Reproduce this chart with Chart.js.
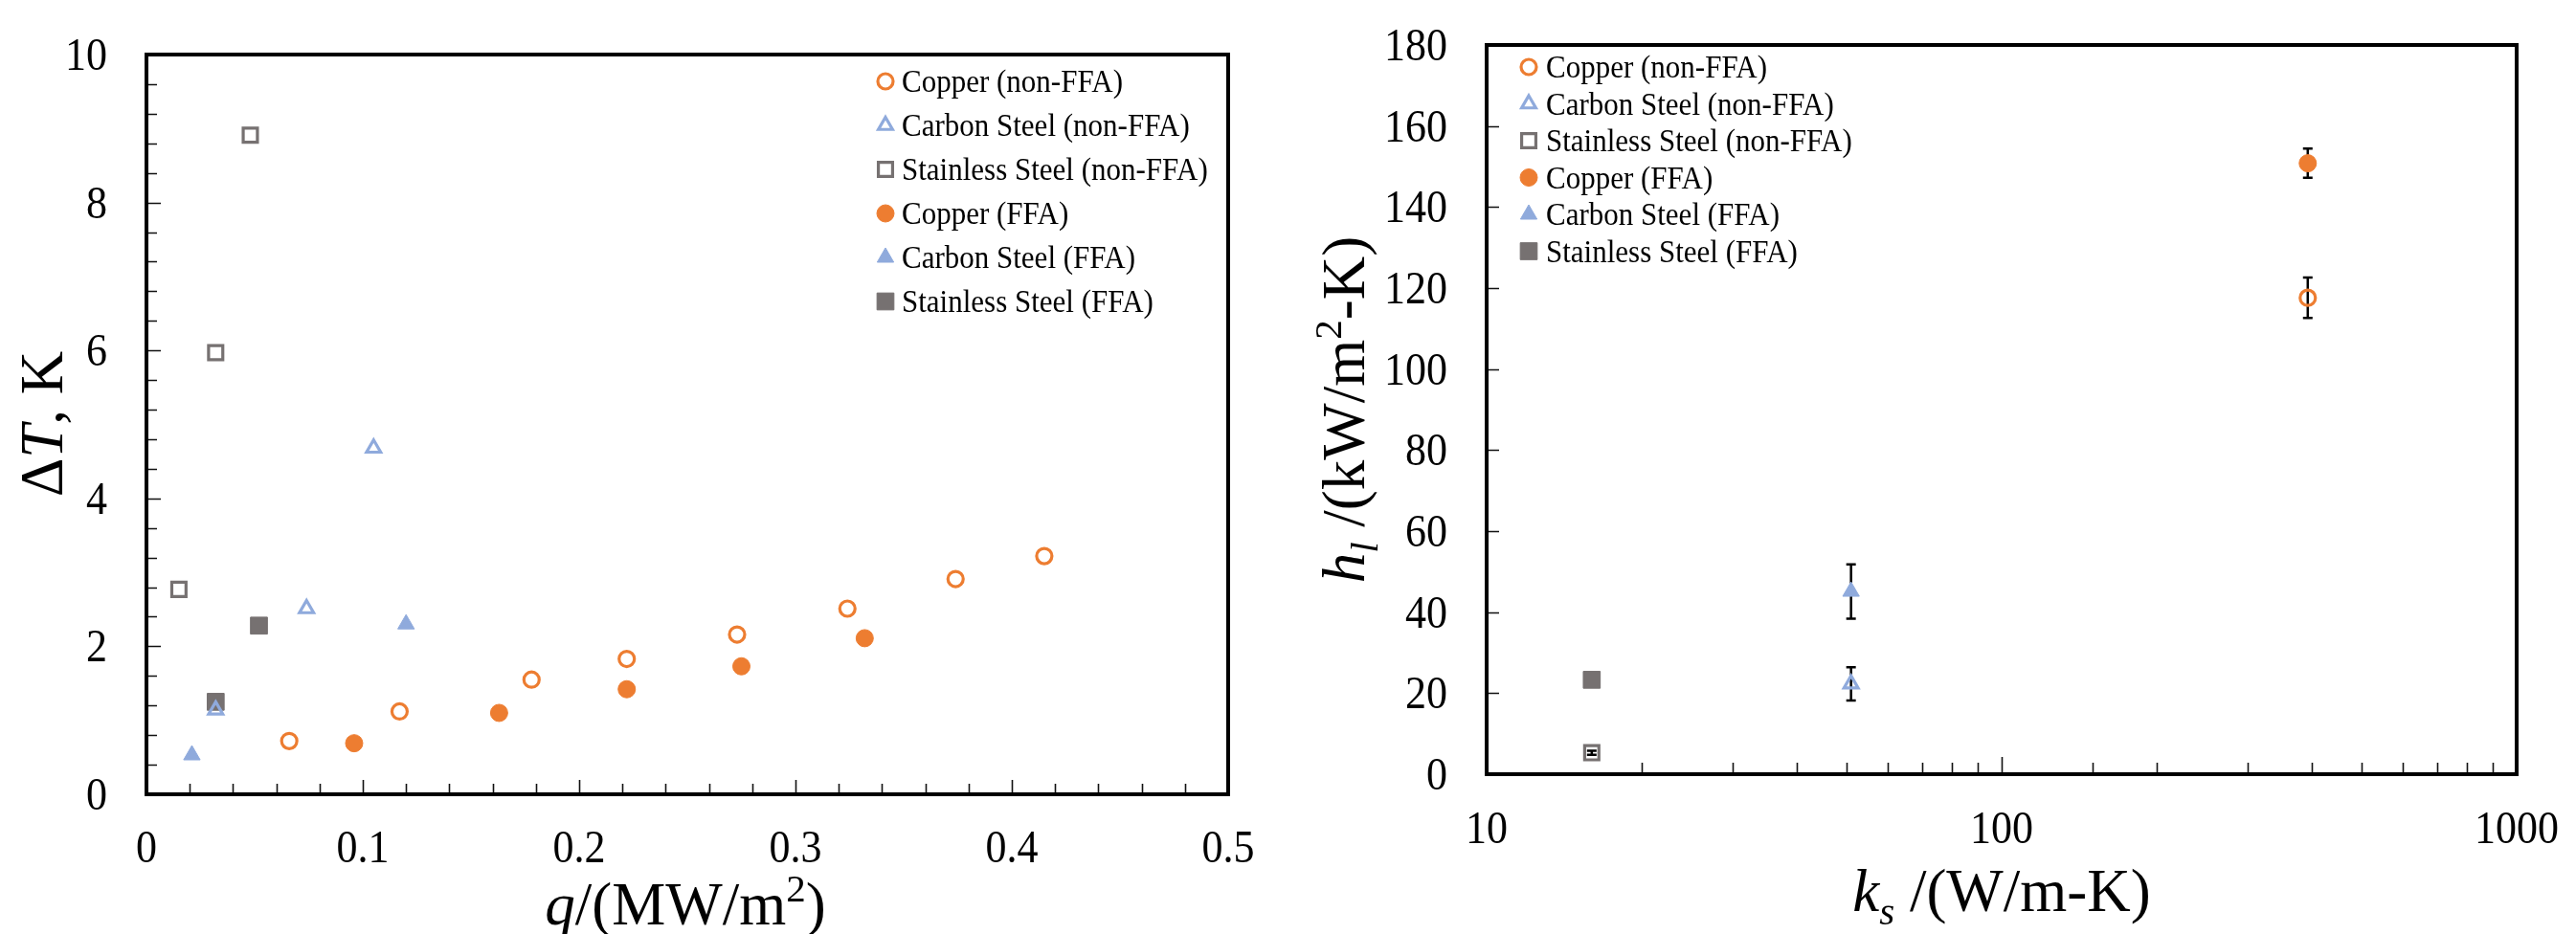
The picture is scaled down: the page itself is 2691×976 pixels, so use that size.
<!DOCTYPE html>
<html>
<head>
<meta charset="utf-8">
<script src="https://cdn.jsdelivr.net/npm/chart.js@4.4.1/dist/chart.umd.min.js"></script>
<style>
    html, body { margin: 0; padding: 0; background: #fff; }
    #wrap { position: relative; width: 2691px; height: 976px; }
    #chartHeatFlux { position: absolute; left: 0; top: 0; }
    #chartConductivity { position: absolute; left: 1340px; top: 0; }
</style>
</head>
<body>
<div id="wrap">
    <canvas id="chartHeatFlux" width="1340" height="976"></canvas>
    <canvas id="chartConductivity" width="1351" height="976"></canvas>
</div>
<script>
const seriesNames = [
    'Copper (non-FFA)',
    'Carbon Steel (non-FFA)',
    'Stainless Steel (non-FFA)',
    'Copper (FFA)',
    'Carbon Steel (FFA)',
    'Stainless Steel (FFA)',
];

// left panel: heat flux q (MW/m2) against wall superheat dT (K)
const qCopperNon = [0.066, 0.117, 0.178, 0.222, 0.273, 0.324, 0.374, 0.415];
const dtCopperNon = [0.72, 1.12, 1.55, 1.83, 2.16, 2.51, 2.91, 3.22];
const qCarbonNon = [0.032, 0.074, 0.105];
const dtCarbonNon = [1.14, 2.51, 4.68];
const qStainlessNon = [0.015, 0.032, 0.048];
const dtStainlessNon = [2.77, 5.97, 8.91];
const qCopperFfa = [0.096, 0.163, 0.222, 0.275, 0.332];
const dtCopperFfa = [0.69, 1.10, 1.42, 1.73, 2.11];
const qCarbonFfa = [0.021, 0.120];
const dtCarbonFfa = [0.53, 2.30];
const qStainlessFfa = [0.032, 0.052];
const dtStainlessFfa = [1.25, 2.28];

// right panel: one point per material (copper, carbon steel, stainless steel)
const ksMaterial = [393, 51, 16];
const hNonFfa = [117.6, 22.3, 5.3];
const hErrNonFfa = [5.0, 4.1, 0.5];
const hFfa = [150.8, 45.1, 23.3];
const hErrFfa = [3.6, 6.7, 0];

// tick labels
const heatFluxLabels = [0, 0.1, 0.2, 0.3, 0.4, 0.5];
const superheatLabels = [0, 2, 4, 6, 8, 10];
const conductivityLabels = [10, 100, 1000];
const htcLabels = [0, 20, 40, 60, 80, 100, 120, 140, 160, 180];

const palette = {
    orange: '#ED7D31',
    blue: '#8FAADC',
    gray: '#767171',
};

const markerStyles = [
    { color: palette.orange, shape: 'circle', filled: false },
    { color: palette.blue, shape: 'triangle', filled: false },
    { color: palette.gray, shape: 'rect', filled: false },
    { color: palette.orange, shape: 'circle', filled: true },
    { color: palette.blue, shape: 'triangle', filled: true },
    { color: palette.gray, shape: 'rect', filled: true },
];

const FONT = "'Liberation Serif', 'Times New Roman', serif";

Chart.defaults.font.family = FONT;
Chart.defaults.color = '#000';

function markerRadius(style) {
    if (style.shape === 'rect') return style.filled ? 12.5 : 10.5;
    if (style.shape === 'triangle') return style.filled ? 10 : 8.5;
    return style.filled ? 9 : 8;
}

function scatterSet(index, xs, ys, errors) {
    const style = markerStyles[index];
    return {
        label: seriesNames[index],
        data: xs.map((x, i) => ({ x, y: ys[i] })),
        errors: errors || null,
        showLine: false,
        pointStyle: style.shape,
        pointRadius: markerRadius(style),
        pointHoverRadius: markerRadius(style),
        pointBackgroundColor: style.filled ? style.color : 'rgba(0,0,0,0)',
        pointBorderColor: style.color,
        pointBorderWidth: style.filled ? 1 : 3.2,
    };
}

function labelIf(list) {
    return (value) => {
        const hit = list.find((v) => Math.abs(v - value) < 1e-6 * Math.max(1, v));
        return hit === undefined ? '' : String(hit);
    };
}

// error bars are drawn under the markers, through the hollow ones
const errorBars = {
    id: 'errorBars',
    beforeDatasetsDraw(chart) {
        const { ctx, scales: { x, y } } = chart;
        ctx.save();
        ctx.strokeStyle = '#000';
        ctx.lineWidth = 2.5;
        chart.data.datasets.forEach((ds) => {
            if (!ds.errors) return;
            ds.data.forEach((p, i) => {
                const e = ds.errors[i];
                if (!e) return;
                const px = x.getPixelForValue(p.x);
                const top = y.getPixelForValue(p.y + e);
                const bottom = y.getPixelForValue(p.y - e);
                ctx.beginPath();
                ctx.moveTo(px, top);
                ctx.lineTo(px, bottom);
                ctx.moveTo(px - 5, top);
                ctx.lineTo(px + 5, top);
                ctx.moveTo(px - 5, bottom);
                ctx.lineTo(px + 5, bottom);
                ctx.stroke();
            });
        });
        ctx.restore();
    },
};

// heavy box around the plot, inward tick marks and the tick labels
const frame = {
    id: 'frame',
    afterDraw(chart, args, opts) {
        const { ctx, chartArea: a, scales: { x, y } } = chart;
        ctx.save();
        ctx.strokeStyle = '#111';
        ctx.lineWidth = 1.6;
        ctx.beginPath();
        x.ticks.forEach((t) => {
            const px = Math.round(x.getPixelForValue(t.value)) + 0.5;
            const len = t.label ? opts.xMajor : opts.xMinor;
            ctx.moveTo(px, a.bottom);
            ctx.lineTo(px, a.bottom - len);
        });
        y.ticks.forEach((t) => {
            const py = Math.round(y.getPixelForValue(t.value)) + 0.5;
            const len = t.label ? opts.yMajor : opts.yMinor;
            ctx.moveTo(a.left, py);
            ctx.lineTo(a.left + len, py);
        });
        ctx.stroke();
        ctx.lineWidth = 4;
        ctx.strokeStyle = '#000';
        ctx.strokeRect(a.left, a.top, a.right - a.left, a.bottom - a.top);

        // labels, slightly tall like the original serif digits
        const size = opts.labelSize;
        const stretch = 1.1;
        const half = size * 0.33 * stretch;
        ctx.fillStyle = '#000';
        ctx.font = `${size}px ${FONT}`;
        ctx.textBaseline = 'alphabetic';
        x.ticks.forEach((t) => {
            if (!t.label) return;
            ctx.save();
            ctx.translate(x.getPixelForValue(t.value), a.bottom + opts.xBaseline);
            ctx.scale(1, stretch);
            ctx.textAlign = 'center';
            ctx.fillText(t.label, 0, 0);
            ctx.restore();
        });
        y.ticks.forEach((t) => {
            if (!t.label) return;
            ctx.save();
            ctx.translate(a.left - opts.yGap, y.getPixelForValue(t.value) + half);
            ctx.scale(1, stretch);
            ctx.textAlign = 'right';
            ctx.fillText(t.label, 0, 0);
            ctx.restore();
        });
        ctx.restore();
    },
};

function drawMarker(ctx, ds, x, y) {
    ctx.fillStyle = ds.pointBackgroundColor;
    ctx.strokeStyle = ds.pointBorderColor;
    ctx.lineWidth = ds.pointBorderWidth;
    Chart.helpers.drawPoint(ctx, {
        pointStyle: ds.pointStyle,
        radius: ds.pointRadius,
        rotation: 0,
        borderWidth: ds.pointBorderWidth,
    }, x, y);
}

const insideLegend = {
    id: 'insideLegend',
    afterDraw(chart, args, opts) {
        const { ctx } = chart;
        ctx.save();
        chart.data.datasets.forEach((ds, i) => {
            const y = opts.top + i * opts.gap;
            drawMarker(ctx, ds, opts.markerX, y);
            ctx.save();
            ctx.translate(opts.textX, y + 11);
            ctx.scale(1, 1.06);
            ctx.font = `${opts.size}px ${FONT}`;
            ctx.textBaseline = 'alphabetic';
            ctx.textAlign = 'left';
            ctx.fillStyle = '#000';
            ctx.fillText(ds.label, 0, 0);
            ctx.restore();
        });
        ctx.restore();
    },
};

// axis titles with italic symbols, sub- and superscripts
function drawRuns(ctx, runs, cx, cy, size, rotated) {
    ctx.save();
    ctx.translate(cx, cy);
    if (rotated) ctx.rotate(-Math.PI / 2);
    const fontOf = (r) => `${r.i ? 'italic ' : ''}${r.sup || r.sub ? Math.round(size * 0.65) : size}px ${FONT}`;
    let total = 0;
    runs.forEach((r) => {
        ctx.font = fontOf(r);
        total += ctx.measureText(r.t).width;
    });
    let x = -total / 2;
    ctx.textBaseline = 'alphabetic';
    ctx.textAlign = 'left';
    ctx.fillStyle = '#000';
    runs.forEach((r) => {
        ctx.font = fontOf(r);
        const dy = r.sup ? -size * 0.38 : r.sub ? size * 0.22 : 0;
        ctx.fillText(r.t, x, dy);
        x += ctx.measureText(r.t).width;
    });
    ctx.restore();
}

const axisTitles = {
    id: 'axisTitles',
    afterDraw(chart, args, opts) {
        const { ctx } = chart;
        drawRuns(ctx, opts.x.runs, opts.x.cx, opts.x.cy, opts.size, false);
        drawRuns(ctx, opts.y.runs, opts.y.cx, opts.y.cy, opts.size, true);
    },
};

function baseOptions({ pad, yWidth, xHeight }) {
    return {
        responsive: false,
        animation: false,
        events: [],
        layout: { padding: pad },
        plugins: {
            legend: { display: false },
            tooltip: { enabled: false },
        },
        elements: { point: { hitRadius: 0 } },
        scales: {
            x: {
                grid: { display: false, drawTicks: false },
                border: { display: false },
                afterFit: (scale) => {
                    scale.height = xHeight;
                    scale.paddingLeft = 0;
                    scale.paddingRight = 0;
                },
            },
            y: {
                grid: { display: false, drawTicks: false },
                border: { display: false },
                afterFit: (scale) => {
                    scale.width = yWidth;
                    scale.paddingTop = 0;
                    scale.paddingBottom = 0;
                },
            },
        },
    };
}

function heatFluxChart() {
    const options = baseOptions({ pad: { left: 0, top: 57, right: 57, bottom: 0 }, yWidth: 153, xHeight: 146 });
    Object.assign(options.scales.x, {
        type: 'linear',
        min: 0,
        max: 0.5,
        ticks: {
            display: false,
            stepSize: 0.02,
            maxTicksLimit: 100,
            autoSkip: false,
            callback: labelIf(heatFluxLabels),
        },
    });
    Object.assign(options.scales.y, {
        type: 'linear',
        min: 0,
        max: 10,
        ticks: {
            display: false,
            stepSize: 0.4,
            maxTicksLimit: 100,
            autoSkip: false,
            callback: labelIf(superheatLabels),
        },
    });
    options.plugins.frame = { xMajor: 15, xMinor: 11, yMajor: 15, yMinor: 11, labelSize: 44, xBaseline: 71, yGap: 41 };
    options.plugins.insideLegend = { markerX: 925, textX: 942, top: 85, gap: 46, size: 31 };
    options.plugins.axisTitles = {
        size: 63,
        x: { cx: 716, cy: 966, runs: [{ t: 'q', i: true }, { t: '/(MW/m' }, { t: '2', sup: true }, { t: ')' }] },
        y: { cx: 65, cy: 443, runs: [{ t: 'Δ' }, { t: 'T', i: true }, { t: ', K' }] },
    };

    return new Chart(document.getElementById('chartHeatFlux'), {
        type: 'scatter',
        data: {
            datasets: [
                scatterSet(0, qCopperNon, dtCopperNon),
                scatterSet(1, qCarbonNon, dtCarbonNon),
                scatterSet(2, qStainlessNon, dtStainlessNon),
                scatterSet(3, qCopperFfa, dtCopperFfa),
                scatterSet(4, qCarbonFfa, dtCarbonFfa),
                scatterSet(5, qStainlessFfa, dtStainlessFfa),
            ],
        },
        options,
        plugins: [errorBars, frame, insideLegend, axisTitles],
    });
}

function conductivityChart() {
    const options = baseOptions({ pad: { left: 0, top: 47, right: 62, bottom: 0 }, yWidth: 213, xHeight: 167 });
    Object.assign(options.scales.x, {
        type: 'logarithmic',
        min: 10,
        max: 1000,
        ticks: {
            display: false,
            autoSkip: false,
            callback: labelIf(conductivityLabels),
        },
    });
    Object.assign(options.scales.y, {
        type: 'linear',
        min: 0,
        max: 180,
        ticks: {
            display: false,
            stepSize: 20,
            autoSkip: false,
            callback: labelIf(htcLabels),
        },
    });
    options.plugins.frame = { xMajor: 18, xMinor: 12, yMajor: 13, yMinor: 13, labelSize: 44, xBaseline: 72, yGap: 41 };
    options.plugins.insideLegend = { markerX: 257, textX: 275, top: 70, gap: 38.5, size: 31 };
    options.plugins.axisTitles = {
        size: 63,
        x: { cx: 751, cy: 952, runs: [{ t: 'k', i: true }, { t: 's', i: true, sub: true }, { t: ' /(W/m-K)' }] },
        y: { cx: 85, cy: 428, runs: [{ t: 'h', i: true }, { t: 'l', i: true, sub: true }, { t: ' /(kW/m' }, { t: '2', sup: true }, { t: '-K)' }] },
    };

    const pick = (list, i) => [list[i]];
    return new Chart(document.getElementById('chartConductivity'), {
        type: 'scatter',
        data: {
            datasets: [
                scatterSet(0, pick(ksMaterial, 0), pick(hNonFfa, 0), pick(hErrNonFfa, 0)),
                scatterSet(1, pick(ksMaterial, 1), pick(hNonFfa, 1), pick(hErrNonFfa, 1)),
                scatterSet(2, pick(ksMaterial, 2), pick(hNonFfa, 2), pick(hErrNonFfa, 2)),
                scatterSet(3, pick(ksMaterial, 0), pick(hFfa, 0), pick(hErrFfa, 0)),
                scatterSet(4, pick(ksMaterial, 1), pick(hFfa, 1), pick(hErrFfa, 1)),
                scatterSet(5, pick(ksMaterial, 2), pick(hFfa, 2), pick(hErrFfa, 2)),
            ],
        },
        options,
        plugins: [errorBars, frame, insideLegend, axisTitles],
    });
}

heatFluxChart();
conductivityChart();
</script>
</body>
</html>
